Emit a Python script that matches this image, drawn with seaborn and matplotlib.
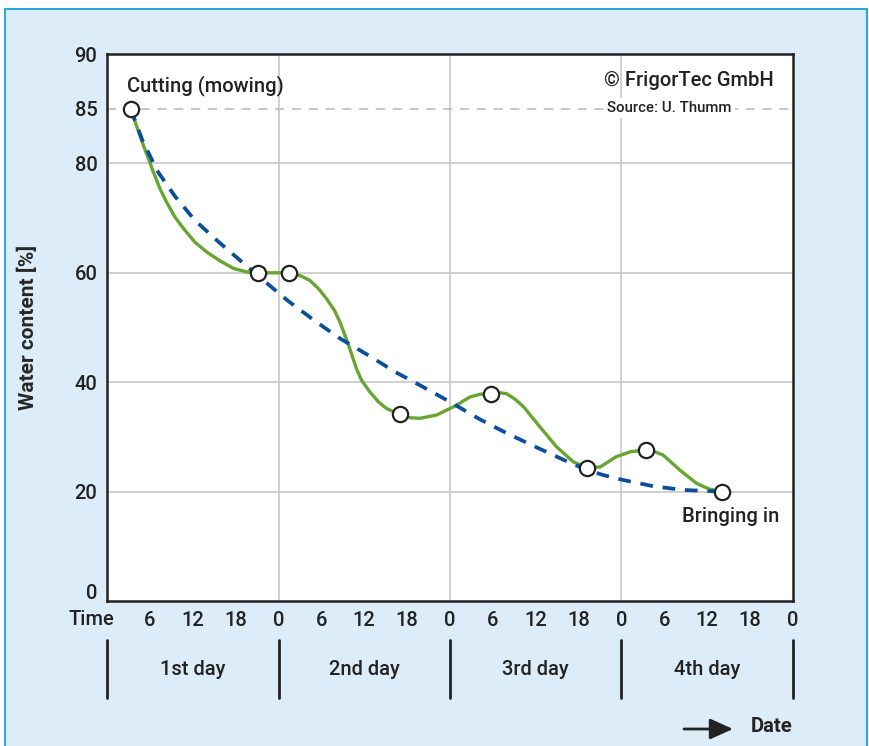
import numpy as np
import pandas as pd
import matplotlib
matplotlib.use("Agg")
import matplotlib.pyplot as plt
import matplotlib.transforms as mtransforms
from matplotlib.patches import Rectangle
import seaborn as sns

# measured points (hours after midnight of day 1, water content %)
point_hours = [3.3, 21.2, 25.4, 41.0, 53.7, 67.2, 75.4, 86.0]
point_water = [85, 60, 60, 34.1, 37.9, 24.4, 27.6, 20.0]

# green curve
green_hours = [3.3, 4.2, 5.1, 6.5, 7.4, 8.35, 9.5, 10.7, 12.3, 13.95, 15.8, 17.7,
               19.55, 21.2, 25.4, 27.0, 28.4, 29.6, 30.7, 31.8, 32.6, 33.8, 34.9,
               35.6, 36.8, 38.0, 39.1, 41.0, 42.4, 43.8, 46.1, 48.5, 50.8, 52.2,
               53.7, 54.8, 55.9, 57.1, 58.3, 60.6, 62.9, 65.3, 67.2, 69.0, 71.3,
               73.3, 75.4, 76.6, 77.8, 79.0, 80.2, 82.5, 84.2, 86.0]
green_water = [85, 83.3, 81.65, 78.4, 75.4, 72.9, 70.2, 68.1, 65.6, 63.8, 62.2, 60.8,
               60.15, 60.0, 60.0, 59.5, 58.6, 57.1, 55.3, 53.2, 51.0, 46.8, 42.5,
               40.4, 38.2, 36.4, 35.2, 34.1, 33.5, 33.4, 34.0, 35.5, 37.3, 37.8,
               37.9, 38.1, 37.9, 36.9, 35.5, 31.8, 28.2, 25.4, 24.4, 24.5, 26.4,
               27.3, 27.6, 27.3, 26.7, 25.3, 23.9, 21.5, 20.5, 20.0]

# blue dashed trend curve
blue_hours = [3.3, 4.9, 7.0, 9.5, 12.3, 15.4, 18.6, 22.0, 25.4, 29.1, 32.6, 36.6,
              40.3, 44.0, 48.0, 52.2, 55.9, 60.1, 63.9, 67.1, 69.5, 72.3, 76.4,
              80.6, 86.0]
blue_water = [85, 82.2, 78.7, 74.0, 69.6, 65.9, 62.3, 58.5, 54.8, 51.2, 48.0, 44.9,
              41.9, 39.3, 36.4, 33.2, 30.7, 28.1, 25.8, 24.0, 23.0, 22.1, 21.0,
              20.3, 20.0]

hour_ticks = list(range(6, 97, 6))
hour_labels = ['6', '12', '18', '0'] * 4
y_ticks = [0, 20, 40, 60, 80, 85, 90]
day_bounds = [0, 24, 48, 72, 96]
day_names = ['1st day', '2nd day', '3rd day', '4th day']

TXT = '#222222'
GREEN = '#68a532'
BLUE = '#0b4f9c'
GRID = '#c8c8c8'
FS = 14.5

sns.set_style('white')
plt.rcParams['font.family'] = ['Roboto', 'DejaVu Sans']
plt.rcParams['text.color'] = TXT


def fwd(y):
    y = np.asarray(y, dtype=float)
    return np.where(y <= 80, y, 80 + 2 * (y - 80))


def inv(t):
    t = np.asarray(t, dtype=float)
    return np.where(t <= 80, t, 80 + (t - 80) / 2)


fig = plt.figure(figsize=(8.69, 7.46), dpi=100, facecolor='white')
fig.patches.append(Rectangle((5 / 869, -0.02), 862 / 869, 1.02 - 9 / 746,
                             transform=fig.transFigure, facecolor='#dcedf9',
                             edgecolor='#2aaae0', lw=1.5, zorder=-5))

ax = fig.add_axes([107 / 869, 145 / 746, 686 / 869, 547 / 746])
ax.set_facecolor('white')
ax.set_yscale('function', functions=(fwd, inv))
ax.set_xlim(0, 96)
ax.set_ylim(0, 90)

# grid
for y in [20, 40, 60, 80]:
    ax.axhline(y, color=GRID, lw=1.2, zorder=0)
for x in day_bounds[1:-1]:
    ax.axvline(x, color=GRID, lw=1.2, zorder=0)
ax.axhline(85, color='#b8b8b8', lw=1.1, ls=(0, (6, 5)), zorder=0)

green = pd.DataFrame({'hour': green_hours, 'water': green_water})
blue = pd.DataFrame({'hour': blue_hours, 'water': blue_water})
pts = pd.DataFrame({'hour': point_hours, 'water': point_water})

sns.lineplot(data=green, x='hour', y='water', ax=ax, color=GREEN, lw=2.4, zorder=3)
sns.lineplot(data=blue, x='hour', y='water', ax=ax, color=BLUE, lw=2.7,
             ls=(0, (3.4, 2.6)), zorder=4)
for ln in ax.get_lines():
    ln.set_solid_joinstyle('round')
ax.plot(pts['hour'], pts['water'], ls='none', marker='o', ms=11,
        mfc='white', mec=TXT, mew=1.6, zorder=5, clip_on=False)

ax.set_xlabel('')
ax.set_ylabel('Water content [%]', fontsize=15, fontweight='bold')
ax.yaxis.set_label_coords(-0.1006, 0.5)

ax.set_xticks(hour_ticks)
ax.set_xticklabels(hour_labels)
ax.set_yticks(y_ticks)
ax.set_yticklabels([str(v) for v in y_ticks])
ax.tick_params(axis='x', direction='in', length=18, width=1.8, color=TXT,
               pad=7, labelsize=FS, labelcolor=TXT)
ax.tick_params(axis='y', length=0, pad=7, labelsize=FS, labelcolor=TXT)
for lab in ax.get_xticklabels() + ax.get_yticklabels():
    lab.set_fontweight('medium')
# the "0" label sits a little above the bottom spine, clear of "Time"
zero_lab = ax.get_yticklabels()[0]
zero_lab.set_transform(zero_lab.get_transform() +
                       mtransforms.ScaledTranslation(0, 7 / 72, fig.dpi_scale_trans))
ax.minorticks_off()

for s in ax.spines.values():
    s.set_visible(True)
    s.set_color(TXT)
    s.set_linewidth(1.8)

trans = mtransforms.blended_transform_factory(ax.transData, ax.transAxes)
ax.text(-2.2, -0.033, 'Time', transform=trans, ha='center', va='center',
        fontsize=FS, fontweight='medium')
for d in day_bounds:
    ax.plot([d, d], [-0.0713, -0.1773], transform=trans, color=TXT, lw=2,
            clip_on=False)
for i, name in enumerate(day_names):
    ax.text(day_bounds[i] + 12, -0.126, name, transform=trans, ha='center',
            va='center', fontsize=FS, fontweight='medium')

ax.text(0.029, 0.943, 'Cutting (mowing)', transform=ax.transAxes, ha='left',
        va='center', fontsize=FS, fontweight='medium')
ax.text(0.972, 0.952, '© FrigorTec GmbH', transform=ax.transAxes, ha='right',
        va='center', fontsize=FS, fontweight='medium')
ax.text(0.820, 0.901, 'Source: U. Thumm', transform=ax.transAxes, ha='center',
        va='center', fontsize=10.8, fontweight='medium',
        bbox=dict(facecolor='white', edgecolor='none', pad=2))
ax.text(0.980, 0.155, 'Bringing in', transform=ax.transAxes, ha='right',
        va='center', fontsize=FS, fontweight='medium')

ax.annotate('', xy=(733 / 869, 17 / 746), xytext=(684 / 869, 17 / 746),
            xycoords='figure fraction', textcoords='figure fraction',
            arrowprops=dict(arrowstyle='-|>,head_length=1.0,head_width=0.45',
                            color=TXT, lw=2, mutation_scale=14,
                            shrinkA=0, shrinkB=0))
fig.text(772 / 869, 19 / 746, 'Date', ha='center', va='center', fontsize=FS,
         fontweight='bold')

fig.savefig('out.png', dpi=100, facecolor=fig.get_facecolor())
